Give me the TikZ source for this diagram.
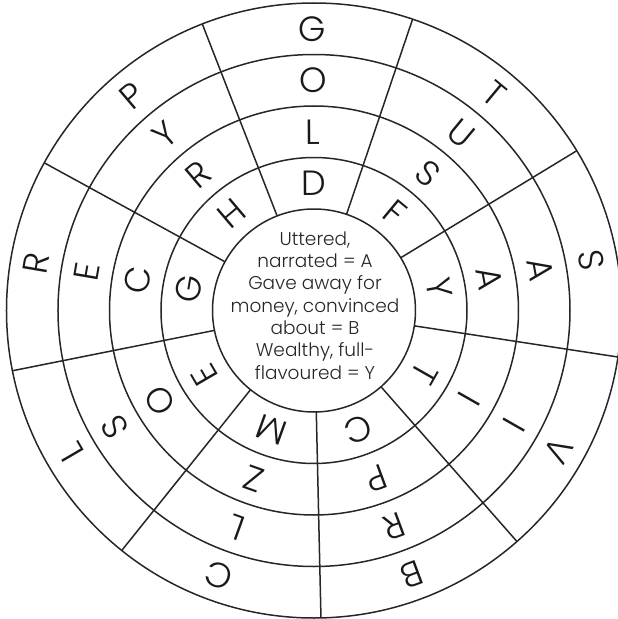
\documentclass[tikz,border=0pt]{standalone}
\usepackage{fontspec}
\newfontfamily\puzzlefont{Poppins Light}

\begin{document}
\begin{tikzpicture}[x=1pt, y=1pt,
  ring/.style={draw=black!85, line width=1.5pt},
  spoke/.style={draw=black!85, line width=1.5pt},
  letter/.style={font=\puzzlefont\fontsize{35}{35}\selectfont, inner sep=0pt, text=black!90},
  clue/.style={font=\puzzlefont\fontsize{18.5}{22.3}\selectfont, align=center, inner sep=0pt, text=black!85}
]
\useasboundingbox (-314,-308.5) rectangle (304,310.5);
\clip (-314,-308.5) rectangle (304,310.5);

% rings
\draw[ring] (0,0) circle (101.5);
\draw[ring] (0,0) circle (153);
\draw[ring] (0,0) circle (204.5);
\draw[ring] (0,0) circle (256);
\draw[ring] (0,0) circle (307.5);

% spokes
\draw[spoke] (111.3:101.5) -- (111.3:307.5);
\draw[spoke] (71.3:101.5) -- (71.3:307.5);
\draw[spoke] (31.3:101.5) -- (31.3:307.5);
\draw[spoke] (-8.7:101.5) -- (-8.7:307.5);
\draw[spoke] (-48.7:101.5) -- (-48.7:307.5);
\draw[spoke] (-88.7:101.5) -- (-88.7:307.5);
\draw[spoke] (-128.7:101.5) -- (-128.7:307.5);
\draw[spoke] (-168.7:101.5) -- (-168.7:307.5);
\draw[spoke] (151.3:101.5) -- (151.3:307.5);

% centre
\node[clue] (clue) at (1,5) {Uttered,\\narrated = A\\Gave away for\\money, convinced\\about = B\\Wealthy, full-\\flavoured = Y};

% letters, outer ring first
\node[letter, rotate=0.3] (a4) at (90.3:281.75) {G};
\node[letter, rotate=0.3] (a3) at (90.3:230.25) {O};
\node[letter, rotate=0.3] (a2) at (90.3:178.75) {L};
\node[letter, rotate=0.3] (a1) at (90.3:127.25) {D};

\node[letter, rotate=-39.7] (b4) at (50.3:281.75) {T};
\node[letter, rotate=-39.7] (b3) at (50.3:230.25) {U};
\node[letter, rotate=-39.7] (b2) at (50.3:178.75) {S};
\node[letter, rotate=-39.7] (b1) at (50.3:127.25) {F};

\node[letter, rotate=-79.7] (c4) at (10.3:281.75) {S};
\node[letter, rotate=-79.7] (c3) at (10.3:230.25) {A};
\node[letter, rotate=-79.7] (c2) at (10.3:178.75) {A};
\node[letter, rotate=-79.7] (c1) at (10.3:127.25) {Y};

\node[letter, rotate=-119.7] (d4) at (-29.7:281.75) {V};
\node[letter, rotate=-119.7] (d3) at (-29.7:230.25) {I};
\node[letter, rotate=-119.7] (d2) at (-29.7:178.75) {I};
\node[letter, rotate=-119.7] (d1) at (-29.7:127.25) {T};

\node[letter, rotate=-159.7] (e4) at (-69.7:281.75) {B};
\node[letter, rotate=-159.7] (e3) at (-69.7:230.25) {R};
\node[letter, rotate=-159.7] (e2) at (-69.7:178.75) {P};
\node[letter, rotate=-159.7] (e1) at (-69.7:127.25) {C};

\node[letter, rotate=-199.7] (f4) at (-109.7:281.75) {C};
\node[letter, rotate=-199.7] (f3) at (-109.7:230.25) {L};
\node[letter, rotate=-199.7] (f2) at (-109.7:178.75) {Z};
\node[letter, rotate=-199.7] (f1) at (-109.7:127.25) {M};

\node[letter, rotate=-239.7] (g4) at (-149.7:281.75) {L};
\node[letter, rotate=-239.7] (g3) at (-149.7:230.25) {S};
\node[letter, rotate=-239.7] (g2) at (-149.7:178.75) {O};
\node[letter, rotate=-239.7] (g1) at (-149.7:127.25) {E};

\node[letter, rotate=80.3] (h4) at (170.3:281.75) {R};
\node[letter, rotate=80.3] (h3) at (170.3:230.25) {E};
\node[letter, rotate=80.3] (h2) at (170.3:178.75) {C};
\node[letter, rotate=80.3] (h1) at (170.3:127.25) {G};

\node[letter, rotate=40.3] (i4) at (130.3:281.75) {P};
\node[letter, rotate=40.3] (i3) at (130.3:230.25) {Y};
\node[letter, rotate=40.3] (i2) at (130.3:178.75) {R};
\node[letter, rotate=40.3] (i1) at (130.3:127.25) {H};
\end{tikzpicture}
\end{document}
